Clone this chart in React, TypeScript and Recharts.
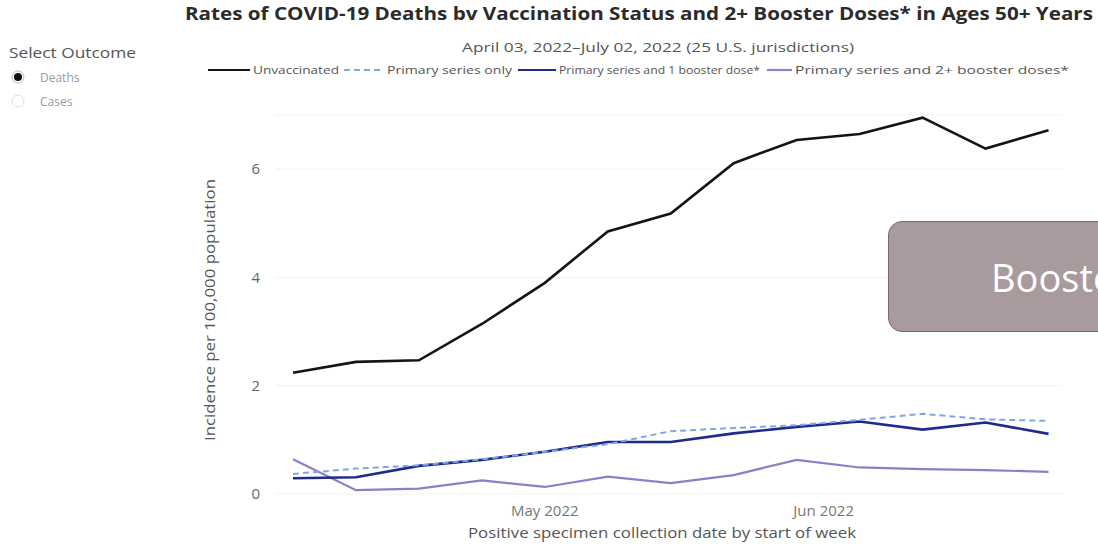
import React from "react";
import { LineChart, Line, XAxis, YAxis, CartesianGrid } from "recharts";

// ---- data ----
const weekStarts = [
  "2022-04-03", "2022-04-10", "2022-04-17", "2022-04-24", "2022-05-01", "2022-05-08",
  "2022-05-15", "2022-05-22", "2022-05-29", "2022-06-05", "2022-06-12", "2022-06-19", "2022-06-26",
];
const unvaccinated = [2.24, 2.44, 2.47, 3.14, 3.9, 4.85, 5.18, 6.11, 6.54, 6.65, 6.95, 6.38, 6.72];
const primaryOnly = [0.37, 0.47, 0.53, 0.64, 0.78, 0.92, 1.16, 1.22, 1.27, 1.37, 1.48, 1.38, 1.35];
const oneBooster = [0.29, 0.31, 0.52, 0.63, 0.78, 0.96, 0.96, 1.12, 1.24, 1.34, 1.19, 1.32, 1.11];
const twoBoosters = [0.64, 0.07, 0.1, 0.25, 0.13, 0.32, 0.2, 0.35, 0.63, 0.49, 0.46, 0.44, 0.41];

const xTickDates = ["2022-05-01", "2022-06-01"];
const xTickLabels = ["May 2022", "Jun 2022"];
const yTicks = [0, 2, 4, 6];

const titleText = "Rates of COVID-19 Deaths bv Vaccination Status and 2+ Booster Doses* in Ages 50+ Years";
const subtitleText = "April 03, 2022\u2013July 02, 2022 (25 U.S. jurisdictions)";
const xAxisTitle = "Positive specimen collection date by start of week";
const yAxisTitle = "Incidence per 100,000 population";
const outcomeTitle = "Select Outcome";
const outcomeOptions = ["Deaths", "Cases"];
const overlayText = "Booster";

const seriesNames = [
  "Unvaccinated",
  "Primary series only",
  "Primary series and 1 booster dose*",
  "Primary series and 2+ booster doses*",
];

// ---- build table ----
const DAY = 86400000;
const origin = Date.parse(weekStarts[0]);
const dayOf = (d: string) => Math.round((Date.parse(d) - origin) / DAY);
const data = weekStarts.map((d, i) => ({
  day: dayOf(d),
  u: unvaccinated[i],
  p: primaryOnly[i],
  b1: oneBooster[i],
  b2: twoBoosters[i],
}));
const xTicks = xTickDates.map(dayOf);
const tickLabelOf = (v: number) => xTickLabels[xTicks.indexOf(v)] ?? "";

// ---- styles ----
const FONT = "'Open Sans', 'Segoe UI', sans-serif";
const seriesStyle = [
  { key: "u", color: "#141414", width: 2.6, dash: undefined as string | undefined },
  { key: "p", color: "#7ea7ea", width: 2, dash: "6 4" },
  { key: "b1", color: "#1f2a8c", width: 2.6, dash: undefined },
  { key: "b2", color: "#8b80c8", width: 2.2, dash: undefined },
];
// legend layout: [lineStart, lineEnd, textStart, textWidth]
const legendLayout = [
  [208, 250, 253, 86],
  [344, 383, 387, 125],
  [518, 556, 559, 201],
  [767, 792, 795, 274],
];
const LEGEND_Y = 70;

export default function App() {
  return (
    <div
      style={{
        position: "absolute",
        left: 0,
        top: 0,
        width: 1098,
        height: 551,
        overflow: "hidden",
        background: "#fff",
        fontFamily: FONT,
      }}
    >
      <div style={{ position: "absolute", left: 0, top: 0 }}>
        <LineChart
          width={1098}
          height={551}
          data={data}
          margin={{ top: 115, right: 36, bottom: 27, left: 190 }}
        >
          <CartesianGrid vertical={false} stroke="#f1f1f1" strokeWidth={1} />
          <XAxis
            dataKey="day"
            type="number"
            domain={[-2, 85.5]}
            ticks={xTicks}
            tickFormatter={tickLabelOf}
            axisLine={false}
            tickLine={false}
            height={30}
            tickMargin={5}
            tick={{ fill: "#777", fontSize: 15, fontFamily: FONT }}
            interval={0}
          />
          <YAxis
            type="number"
            domain={[0, 7]}
            ticks={yTicks}
            axisLine={false}
            tickLine={false}
            width={85}
            tickMargin={9}
            tick={{ fill: "#666", fontSize: 15, fontFamily: FONT }}
          />
          {[3, 2, 1, 0].map((i) => {
            const s = seriesStyle[i];
            return (
              <Line
                key={s.key}
                dataKey={s.key}
                name={seriesNames[i]}
                stroke={s.color}
                strokeWidth={s.width}
                strokeDasharray={s.dash}
                dot={false}
                activeDot={false}
                type="linear"
                isAnimationActive={false}
              />
            );
          })}
        </LineChart>
      </div>

      <svg
        width={1098}
        height={551}
        style={{ position: "absolute", left: 0, top: 0, pointerEvents: "none" }}
      >
        {/* title */}
        <text
          x={185}
          y={20}
          fontFamily={FONT}
          fontWeight={700}
          fontSize={17}
          fill="#2b2b2b"
          textLength={908}
          lengthAdjust="spacingAndGlyphs"
        >
          {titleText}
        </text>
        <text
          x={462}
          y={52}
          fontFamily={FONT}
          fontSize={13.5}
          fill="#555"
          textLength={392}
          lengthAdjust="spacingAndGlyphs"
        >
          {subtitleText}
        </text>

        {/* legend */}
        {legendLayout.map((l, i) => {
          const s = seriesStyle[i];
          return (
            <g key={i}>
              <line
                x1={l[0]}
                x2={l[1]}
                y1={LEGEND_Y}
                y2={LEGEND_Y}
                stroke={s.color}
                strokeWidth={Math.min(s.width, 2.2)}
                strokeDasharray={s.dash}
              />
              <text
                x={l[2]}
                y={LEGEND_Y + 3.5}
                fontFamily={FONT}
                fontSize={10.5}
                fill="#555"
                textLength={l[3]}
                lengthAdjust="spacingAndGlyphs"
              >
                {seriesNames[i]}
              </text>
            </g>
          );
        })}

        {/* left panel */}
        <text
          x={9}
          y={58}
          fontFamily={FONT}
          fontSize={14}
          fontWeight={500}
          fill="#555"
          textLength={127}
          lengthAdjust="spacingAndGlyphs"
        >
          {outcomeTitle}
        </text>
        <circle cx={18} cy={77} r={6} fill="#fff" stroke="#bbb" strokeWidth={1} />
        <circle cx={18} cy={77} r={4} fill="#111" />
        <text x={40} y={81.5} fontFamily={FONT} fontSize={12} fill="#9a9a9a">
          {outcomeOptions[0]}
        </text>
        <circle cx={18} cy={101} r={6} fill="#fff" stroke="#ddd" strokeWidth={1} />
        <text x={40} y={105.5} fontFamily={FONT} fontSize={12} fill="#9a9a9a">
          {outcomeOptions[1]}
        </text>

        {/* axis titles */}
        <text
          x={662}
          y={538}
          textAnchor="middle"
          fontFamily={FONT}
          fontSize={15}
          fill="#555"
          textLength={388}
          lengthAdjust="spacingAndGlyphs"
        >
          {xAxisTitle}
        </text>
        <text
          transform="translate(215,310) rotate(-90)"
          textAnchor="middle"
          fontFamily={FONT}
          fontSize={15}
          fill="#555"
          textLength={262}
          lengthAdjust="spacingAndGlyphs"
        >
          {yAxisTitle}
        </text>
      </svg>

      {/* overlay box */}
      <div
        style={{
          position: "absolute",
          left: 888,
          top: 221,
          width: 300,
          height: 111,
          background: "#a99a9d",
          border: "1.5px solid #776a6d",
          borderRadius: 14,
          boxSizing: "border-box",
          display: "flex",
          alignItems: "center",
          paddingLeft: 102,
          color: "#fff",
          fontFamily: FONT,
          fontSize: 38,
          whiteSpace: "nowrap",
        }}
      >
        {overlayText}
      </div>
    </div>
  );
}
